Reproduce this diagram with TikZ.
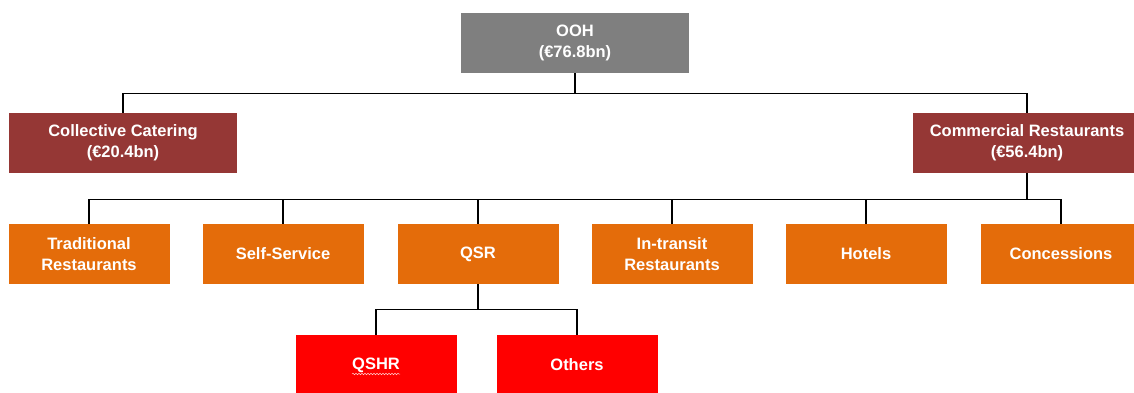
\documentclass[tikz,border=0pt]{standalone}
\usepackage{fontspec}
\setmainfont{Liberation Sans}
\usetikzlibrary{decorations.pathmorphing}
\definecolor{oohgray}{HTML}{7F7F7F}
\definecolor{darkred}{HTML}{953735}
\definecolor{orangebox}{HTML}{E46C0A}
\definecolor{redbox}{HTML}{FF0000}
\tikzset{
  box/.style={minimum height=60pt, inner sep=0pt, text=white, align=center,
    font=\bfseries\fontsize{16.5}{21}\selectfont},
  topbox/.style={box, fill=oohgray, minimum width=228pt},
  catbox/.style={box, fill=darkred, minimum width=228pt},
  subbox/.style={box, fill=orangebox, minimum width=161pt},
  leafbox/.style={box, fill=redbox, minimum width=161pt},
  link/.style={draw=black, line width=1.4pt}
}
\begin{document}
\begin{tikzpicture}[x=1pt,y=-1pt]
\useasboundingbox[fill=white] (0,0) rectangle (1134,392);
\node[topbox] (ooh) at (575,43) {OOH\\(€76.8bn)};
\node[catbox] (cc) at (123,143) {Collective Catering\\(€20.4bn)};
\node[catbox] (cr) at (1027,143) {Commercial Restaurants\\(€56.4bn)};
\node[subbox] (trad) at (89,254) {Traditional\\Restaurants};
\node[subbox] (self) at (283,254) {Self-Service};
\node[subbox] (qsr) at (478,254) {QSR};
\node[subbox] (intr) at (672,254) {In-transit\\Restaurants};
\node[subbox] (hot) at (866,254) {Hotels};
\node[subbox] (conc) at (1061,254) {Concessions};
\node[leafbox] (qshr) at (376,365) {QSHR};
\node[leafbox] (oth) at (577,365) {Others};
\draw[link] (ooh.south) -- ++(0,20) coordinate (j1) -| (cc.north);
\draw[link] (j1) -| (cr.north);
\draw[link] (cr.south) -- ++(0,26) coordinate (j2) -| (trad.north);
\foreach \n in {self,qsr,intr,hot,conc} \draw[link] (j2) -| (\n.north);
\draw[link] (qsr.south) -- ++(0,25) coordinate (j3) -| (qshr.north);
\draw[link] (j3) -| (oth.north);
\coordinate (w1) at (352,374);
\coordinate (w2) at (400,374);
\draw[white!80!red, line width=0.5pt, decorate, decoration={snake, amplitude=0.8pt, segment length=3pt}] (w1) -- (w2);
\end{tikzpicture}
\end{document}
